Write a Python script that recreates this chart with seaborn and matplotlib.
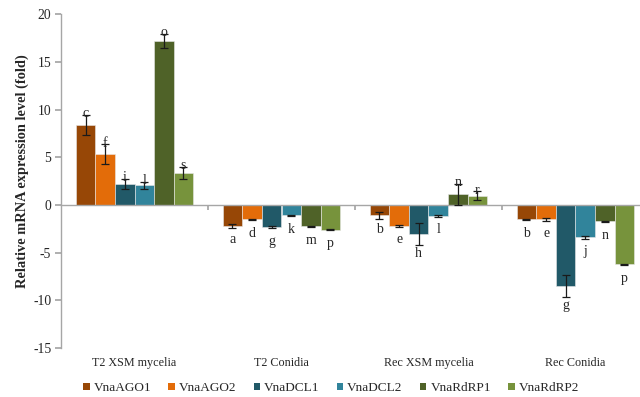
import matplotlib
matplotlib.use('Agg')
import matplotlib.pyplot as plt
from matplotlib.patches import Patch
import pandas as pd
import seaborn as sns

tissues = ['T2 XSM mycelia', 'T2 Conidia', 'Rec XSM mycelia', 'Rec Conidia']
genes = ['VnaAGO1', 'VnaAGO2', 'VnaDCL1', 'VnaDCL2', 'VnaRdRP1', 'VnaRdRP2']

# relative expression (fold), one value per tissue
ago1 = [8.4, -2.2, -1.1, -1.5]
ago2 = [5.35, -1.5, -2.2, -1.5]
dcl1 = [2.2, -2.35, -3.05, -8.45]
dcl2 = [2.05, -1.1, -1.15, -3.4]
rdrp1 = [17.2, -2.25, 1.15, -1.7]
rdrp2 = [3.35, -2.6, 0.97, -6.2]

# standard error
ago1_err = [1.05, 0.2, 0.35, 0.05]
ago2_err = [1.0, 0.05, 0.15, 0.15]
dcl1_err = [0.55, 0.1, 1.15, 1.15]
dcl2_err = [0.35, 0.1, 0.1, 0.15]
rdrp1_err = [0.75, 0.05, 1.1, 0.05]
rdrp2_err = [0.6, 0.05, 0.45, 0.05]

# significance letters
ago1_let = ['c', 'a', 'b', 'b']
ago2_let = ['f', 'd', 'e', 'e']
dcl1_let = ['i', 'g', 'h', 'g']
dcl2_let = ['l', 'k', 'l', 'j']
rdrp1_let = ['o', 'm', 'n', 'n']
rdrp2_let = ['s', 'p', 'r', 'p']

values = [ago1, ago2, dcl1, dcl2, rdrp1, rdrp2]
errors = [ago1_err, ago2_err, dcl1_err, dcl2_err, rdrp1_err, rdrp2_err]
letters = [ago1_let, ago2_let, dcl1_let, dcl2_let, rdrp1_let, rdrp2_let]

colors = ['#974706', '#E36C09', '#215968', '#31849B', '#4F6228', '#77933C']

rows = []
for g, vals, errs, lets in zip(genes, values, errors, letters):
    for t, v, e, l in zip(tissues, vals, errs, lets):
        rows.append({'tissue': t, 'gene': g, 'fold': v, 'err': e, 'letter': l})
df = pd.DataFrame(rows)

sns.set_theme(style='white')
plt.rcParams['font.family'] = ['Liberation Serif', 'DejaVu Serif']
plt.rcParams['axes.unicode_minus'] = False

fig = plt.figure(figsize=(6.4, 3.97), dpi=100)
ax = fig.add_axes([61 / 640, 1 - 348 / 397, 588 / 640, (348 - 14.3) / 397])

sns.barplot(data=df, x='tissue', y='fold', hue='gene', order=tissues,
            hue_order=genes, palette=colors, width=0.8, errorbar=None,
            saturation=1, edgecolor='#e8e8e8', linewidth=0.4, legend=False,
            ax=ax)

ax.set_xlim(-0.5, 3.5)
ax.set_ylim(-15, 20)

grey = '#a6a6a6'
for container, g in zip(ax.containers, genes):
    sub = df[df['gene'] == g].set_index('tissue').loc[tissues]
    for bar, (t, r) in zip(container, sub.iterrows()):
        x = bar.get_x() + bar.get_width() / 2
        ax.errorbar(x, r['fold'], yerr=r['err'], fmt='none', ecolor='#1a1a1a',
                    elinewidth=0.9, capsize=2.8, capthick=0.9, zorder=3)
        if r['fold'] >= 0:
            ax.annotate(r['letter'], (x, r['fold'] + r['err']),
                        xytext=(0, -1.5), textcoords='offset points',
                        ha='center', va='baseline', fontsize=10)
        else:
            # label sits below the bar end, clear of the error bar
            y_px = ax.transData.transform((x, r['fold']))[1]
            y_err = ax.transData.transform((x, r['fold'] - r['err']))[1]
            y_lab = min(y_px - 14, y_err - 8.5)
            yd = ax.transData.inverted().transform((0, y_lab))[1]
            ax.text(x, yd, r['letter'], ha='center', va='center', fontsize=10)

ax.set_yticks(range(-15, 21, 5))
ax.set_xticks([0.5, 1.5, 2.5])
ax.set_xticklabels([])
ax.set_xlabel('')
ax.set_ylabel('Relative mRNA expression level (fold)', fontsize=10.4,
              fontweight='bold')
ax.yaxis.set_label_coords(-0.055, 0.53)

for s in ['top', 'right']:
    ax.spines[s].set_visible(False)
ax.spines['bottom'].set_position(('data', 0))
ax.spines['bottom'].set_color(grey)
ax.spines['left'].set_color(grey)
ax.spines['bottom'].set_linewidth(1.0)
ax.spines['left'].set_linewidth(1.0)
ax.tick_params(axis='y', which='major', direction='out', length=4,
               color=grey, labelsize=9.8, pad=3, left=True)
ax.tick_params(axis='x', which='major', direction='out', length=3.5,
               color=grey, bottom=True)

for i, t in enumerate(tissues):
    ax.annotate(t, (i, 0), xycoords=('data', 'axes fraction'),
                xytext=(0, -11), textcoords='offset points',
                ha='center', va='center', fontsize=8.7)

handles = [Patch(facecolor=c, edgecolor='none') for c in colors]
fig.legend(handles, genes, loc='center', bbox_to_anchor=(331 / 640, 1 - 388 / 397),
           ncol=6, frameon=False, fontsize=9.5, handlelength=0.5,
           handleheight=0.5, handletextpad=0.3, columnspacing=1.3)

fig.savefig('out.png', dpi=100)
